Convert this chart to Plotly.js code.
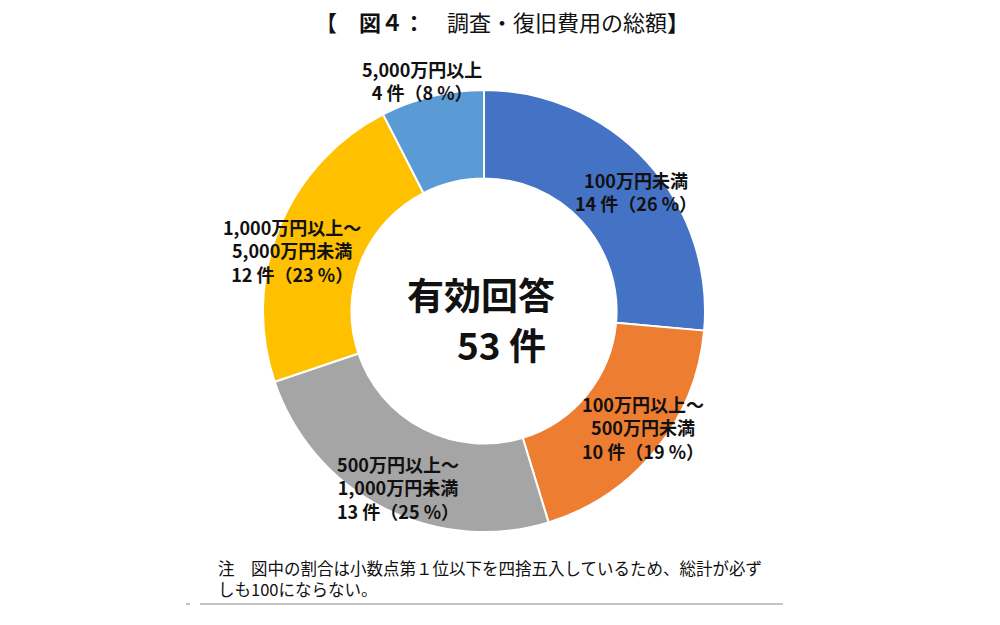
<!DOCTYPE html>
<html><head><meta charset="utf-8">
<script src="https://cdn.plot.ly/plotly-3.0.1.min.js"></script>
<style>html,body{margin:0;padding:0;background:#fff;}#chart{width:1000px;height:625px;}</style>
</head><body><div id="chart"></div>
<script>
const categories = ["100万円未満", "100万円以上～500万円未満", "500万円以上～1,000万円未満", "1,000万円以上～5,000万円未満", "5,000万円以上"];
const labelLines = [["100万円未満"], ["100万円以上～", "500万円未満"], ["500万円以上～", "1,000万円未満"], ["1,000万円以上～", "5,000万円未満"], ["5,000万円以上"]];
const counts = [14, 10, 13, 12, 4];
const percents = [26, 19, 25, 23, 8];
const colors = ["#4472C4", "#ED7D31", "#A5A5A5", "#FFC000", "#5B9BD5"];
const total = 53;

const F = "'Noto Sans CJK JP', 'Noto Sans', sans-serif";
const labelPos = [[636, 191], [643, 427], [398, 487], [292, 250], [422, 81]];

const annotations = categories.map((c, i) => ({
  xref: 'paper', yref: 'paper',
  x: labelPos[i][0] / 1000, y: 1 - labelPos[i][1] / 625,
  xanchor: 'center', yanchor: 'middle', showarrow: false, align: 'center',
  text: '<b>' + labelLines[i].concat([counts[i] + ' 件（' + percents[i] + ' %）']).join('<br>') + '</b>',
  font: {family: F, size: 18, color: '#111'}
}));
annotations.push({xref: 'paper', yref: 'paper', x: 481/1000, y: 1 - 294/625, xanchor: 'center', yanchor: 'middle', showarrow: false,
  text: '<b>有効回答</b>', font: {family: F, size: 37, color: '#111'}});
annotations.push({xref: 'paper', yref: 'paper', x: 501/1000, y: 1 - 344/625, xanchor: 'center', yanchor: 'middle', showarrow: false,
  text: '<b>' + total + ' 件</b>', font: {family: F, size: 37, color: '#111'}});
annotations.push({xref: 'paper', yref: 'paper', x: 216/1000, y: 1 - 578/625, xanchor: 'left', yanchor: 'middle', showarrow: false, align: 'left',
  text: '注　図中の割合は小数点第１位以下を四捨五入しているため、総計が必ず<br>しも100にならない。', font: {family: F, size: 16.5, color: '#111'}});

const data = [{
  type: 'pie', values: counts, labels: categories, sort: false, direction: 'clockwise', rotation: 0,
  hole: 0.6, textinfo: 'none', hoverinfo: 'label+value+percent',
  marker: {colors: colors, line: {color: '#ffffff', width: 2}},
  domain: {x: [0.263, 0.705], y: [(314-221)/625, (314+221)/625]}
}];

const layout = {
  width: 1000, height: 625, margin: {l: 0, r: 0, t: 0, b: 0},
  paper_bgcolor: '#fff', showlegend: false,
  title: {text: '【　<b>図４：</b>　調査・復旧費用の総額<b>】</b>', x: 0.502, xanchor: 'center', y: 1 - 23/625, yanchor: 'middle',
    font: {family: F, size: 22, color: '#111'}},
  annotations: annotations,
  shapes: [
    {type: 'line', xref: 'paper', yref: 'paper', x0: 200/1000, x1: 783/1000, y0: 1 - 604/625, y1: 1 - 604/625, line: {color: '#888', width: 1}},
    {type: 'line', xref: 'paper', yref: 'paper', x0: 186/1000, x1: 190/1000, y0: 1 - 604/625, y1: 1 - 604/625, line: {color: '#888', width: 1}}
  ]
};
Plotly.newPlot('chart', data, layout, {displayModeBar: false, staticPlot: true});
</script></body></html>
